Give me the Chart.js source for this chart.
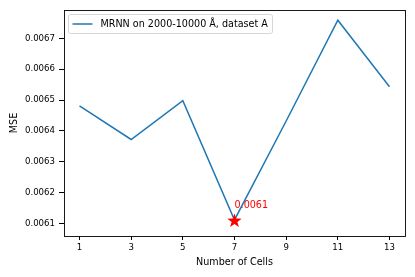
<!DOCTYPE html>
<html><head><meta charset="utf-8">
<script src="https://cdn.jsdelivr.net/npm/chart.js@4/dist/chart.umd.min.js"></script>
<style>html,body{margin:0;padding:0;background:#fff}#wrap{width:415px;height:277px}</style>
</head><body><div id="wrap"><canvas id="c" width="415" height="277"></canvas></div>
<script>
const cells = [1, 3, 5, 7, 9, 11, 13];
const mse = [0.006481, 0.006372, 0.006498, 0.006111, 0.006432, 0.006759, 0.006543];
const xTicks = [1, 3, 5, 7, 9, 11, 13];
const yTicks = [0.0061, 0.0062, 0.0063, 0.0064, 0.0065, 0.0066, 0.0067];
const seriesLabel = 'MRNN on 2000-10000 Å, dataset A';
const bestIndex = 3;
const bestLabel = '0.0061';

const FONT = 'DejaVu Sans';

const framePlugin = {
  id: 'frame',
  afterDatasetsDraw(chart) {
    const {ctx, chartArea: a, scales} = chart;
    ctx.save();
    ctx.strokeStyle = '#000';
    ctx.lineWidth = 0.9;
    ctx.strokeRect(Math.round(a.left) + 0.5, Math.round(a.top) + 0.5, Math.round(a.right - a.left), Math.round(a.bottom - a.top));
    // star marker at best point
    const px = scales.x.getPixelForValue(cells[bestIndex]);
    const py = scales.y.getPixelForValue(mse[bestIndex]);
    const R = 7.5, r = 3.0;
    ctx.beginPath();
    for (let i = 0; i < 10; i++) {
      const ang = -Math.PI / 2 + i * Math.PI / 5;
      const rad = i % 2 === 0 ? R : r;
      const x = px + rad * Math.cos(ang), y = py + 1 + rad * Math.sin(ang);
      if (i === 0) ctx.moveTo(x, y); else ctx.lineTo(x, y);
    }
    ctx.closePath();
    ctx.fillStyle = '#ff0000';
    ctx.fill();
    ctx.fillStyle = '#ff0000';
    ctx.font = '9.6px "' + FONT + '"';
    ctx.textBaseline = 'alphabetic';
    ctx.textAlign = 'left';
    ctx.fillText(bestLabel, px, py - 12);
    // legend
    const lx = a.left + 4.5, ly = a.top + 4.5, lw = 204, lh = 19;
    ctx.beginPath();
    if (ctx.roundRect) ctx.roundRect(lx, ly, lw, lh, 2); else ctx.rect(lx, ly, lw, lh);
    ctx.fillStyle = 'rgba(255,255,255,0.8)';
    ctx.fill();
    ctx.strokeStyle = '#d6d6d6';
    ctx.lineWidth = 1;
    ctx.stroke();
    ctx.beginPath();
    ctx.moveTo(lx + 4, ly + 9.5);
    ctx.lineTo(lx + 24, ly + 9.5);
    ctx.strokeStyle = '#1f77b4';
    ctx.lineWidth = 1.5;
    ctx.stroke();
    ctx.fillStyle = '#000';
    ctx.textBaseline = 'middle';
    ctx.fillText(chart.data.datasets[0].label, lx + 32, ly + 10);
    ctx.restore();
  }
};

new Chart(document.getElementById('c'), {
  type: 'line',
  data: {
    datasets: [{
      label: seriesLabel,
      data: cells.map((c, i) => ({x: c, y: mse[i]})),
      borderColor: '#1f77b4',
      borderWidth: 1.5,
      pointRadius: 0,
      tension: 0,
      fill: false
    }]
  },
  options: {
    responsive: false,
    animation: false,
    devicePixelRatio: 1,
    layout: {padding: {left: 0, right: 10, top: 10, bottom: 0}},
    plugins: {legend: {display: false}, tooltip: {enabled: false}},
    scales: {
      x: {
        type: 'linear', min: 0.4, max: 13.6,
        afterBuildTicks(s) { s.ticks = xTicks.map(v => ({value: v})); },
        afterFit(s) { s.height = 41; },
        grid: {display: true, drawOnChartArea: false, drawTicks: true, tickLength: 4, tickColor: '#000', tickWidth: 1},
        border: {display: false},
        ticks: {color: '#000', font: {family: FONT, size: 8.6}, padding: 3, maxRotation: 0,
          callback: v => String(v)},
        title: {display: true, text: 'Number of Cells', color: '#000', font: {family: FONT, size: 9.6}, padding: {top: 0, bottom: 9}}
      },
      y: {
        type: 'linear', min: 0.006059, max: 0.006792,
        afterBuildTicks(s) { s.ticks = yTicks.map(v => ({value: v})); },
        afterFit(s) { s.width = 64; },
        grid: {display: true, drawOnChartArea: false, drawTicks: true, tickLength: 5, tickColor: '#000', tickWidth: 1},
        border: {display: false},
        ticks: {color: '#000', font: {family: FONT, size: 8.6}, padding: 4,
          callback: v => v.toFixed(4)},
        title: {display: true, text: 'MSE', color: '#000', font: {family: FONT, size: 9.6}, padding: {top: 9, bottom: 0}}
      }
    }
  },
  plugins: [framePlugin]
});
</script>
</body></html>
